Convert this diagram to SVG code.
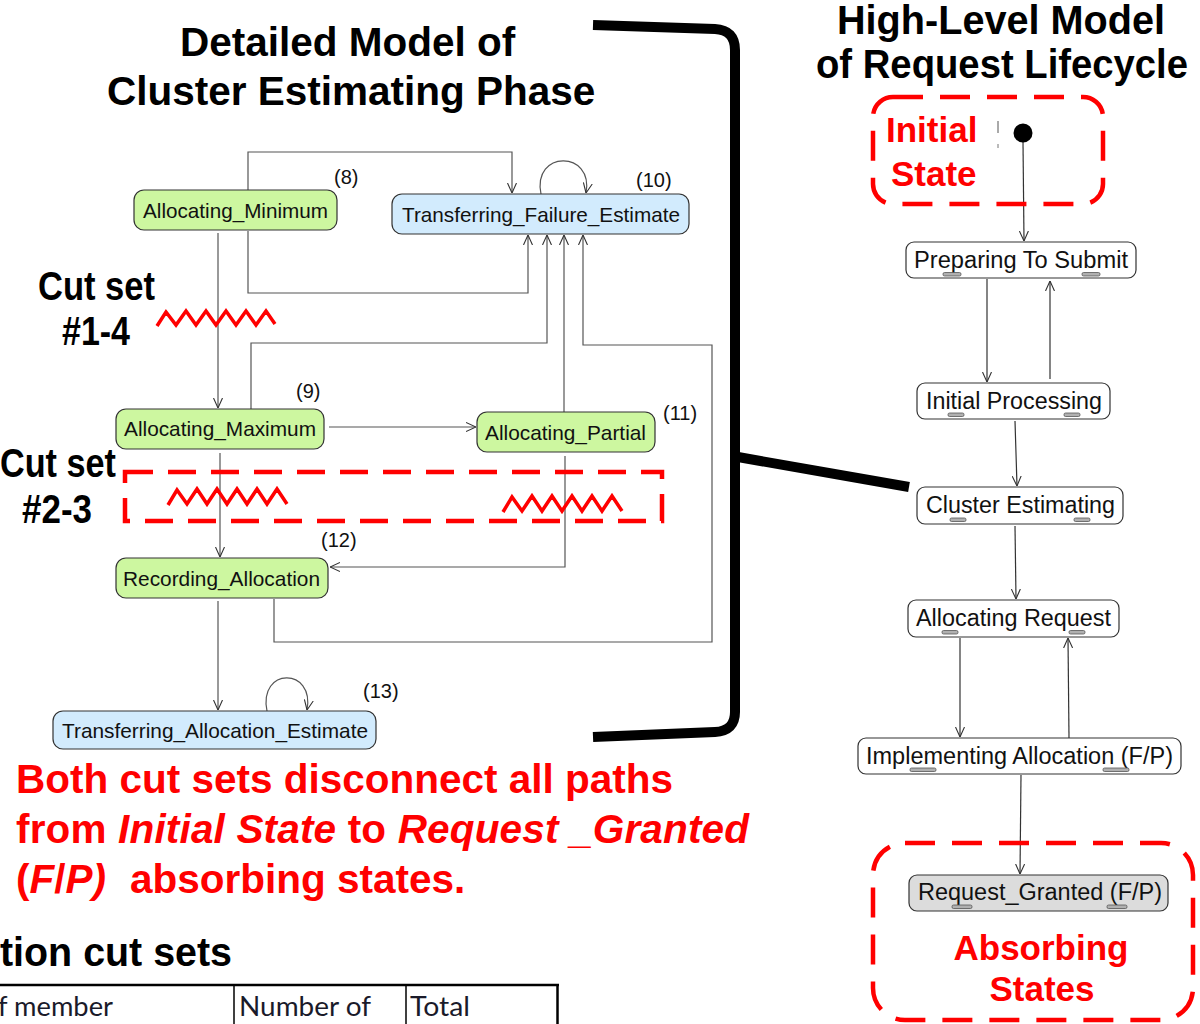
<svg xmlns="http://www.w3.org/2000/svg" width="1200" height="1024" viewBox="0 0 1200 1024">
<defs>
<marker id="arr" viewBox="0 0 10 10" refX="10" refY="5" markerWidth="10" markerHeight="10" markerUnits="userSpaceOnUse" orient="auto">
<path d="M0,0.5 L10,5 L0,9.5" fill="none" stroke="#333" stroke-width="1.1"/>
</marker>
<style>
.title{font-family:"Liberation Sans",Arial,sans-serif;font-weight:bold;font-size:40.5px;fill:#000}
.cut{font-family:"Liberation Sans",Arial,sans-serif;font-weight:bold;font-size:40px;fill:#000}
.red{font-family:"Liberation Sans",Arial,sans-serif;font-weight:bold;fill:#ff0000}
.it{font-style:italic}
.ntext{font-family:"Liberation Sans",Arial,sans-serif;font-size:21px;fill:#111}
.rtext{font-family:"Liberation Sans",Arial,sans-serif;font-size:23px;fill:#111}
.lbl{font-family:"Liberation Sans",Arial,sans-serif;font-size:20px;fill:#111}
.green{fill:#cdf7a0;stroke:#333;stroke-width:1.2}
.blue{fill:#d2ebfd;stroke:#333;stroke-width:1.2}
.white{fill:#fff;stroke:#333;stroke-width:1.2}
.gray{fill:#dcdcdc;stroke:#333;stroke-width:1.2}
.mark{fill:#b0b0b0;stroke:#555;stroke-width:0.8}
.conn{fill:none;stroke:#555;stroke-width:1.2}
.rconn{fill:none;stroke:#333;stroke-width:1.2}
.zig{fill:none;stroke:#ff0000;stroke-width:3.5;stroke-linejoin:miter}
.rdash{fill:none;stroke:#ff0000;stroke-width:4.5}
.tbl{font-family:Lato,"Open Sans",sans-serif;font-size:26px;fill:#1a1a2a}
</style>
</defs>

<!-- Titles -->
<text class="title" x="180" y="56">Detailed Model of</text>
<text class="title" x="107" y="105">Cluster Estimating Phase</text>
<text class="title" x="837" y="34" font-size="37" textLength="328" lengthAdjust="spacingAndGlyphs">High-Level Model</text>
<text class="title" x="816" y="78" font-size="37" textLength="372" lengthAdjust="spacingAndGlyphs">of Request Lifecycle</text>

<!-- Bracket and link -->
<path d="M593,25 L715,29 Q735,30 735,50 L735,712 Q735,731 715,732 L593,737" fill="none" stroke="#000" stroke-width="10"/>
<path d="M738,457 L909,487" fill="none" stroke="#000" stroke-width="10"/>

<!-- Connectors -->
<g id="connectors">
<path class="conn" d="M248,190 L248,152 L512,152 L512,193" marker-end="url(#arr)"/>
<path class="conn" d="M248,231 L248,293 L528,293 L528,235" marker-end="url(#arr)"/>
<path class="conn" d="M541,194 C532,150 594,150 586,193" marker-end="url(#arr)"/>
<path class="conn" d="M218,233 L218,408" marker-end="url(#arr)"/>
<path class="conn" d="M251,409 L251,343 L547,343 L547,235" marker-end="url(#arr)"/>
<path class="conn" d="M564,412 L564,235" marker-end="url(#arr)"/>
<path class="conn" d="M274,599 L274,642 L712,642 L712,345 L583,345 L583,235" marker-end="url(#arr)"/>
<path class="conn" d="M329,427 L476,427" marker-end="url(#arr)"/>
<path class="conn" d="M220,453 L220,557" marker-end="url(#arr)"/>
<path class="conn" d="M565,456 L565,567 L330,567" marker-end="url(#arr)"/>
<path class="conn" d="M218,601 L218,710" marker-end="url(#arr)"/>
<path class="conn" d="M267,711 C258,667 315,667 307,710" marker-end="url(#arr)"/>

<line x1="998" y1="121" x2="998" y2="133" stroke="#555" stroke-width="1"/>
<line x1="998" y1="144" x2="998" y2="148" stroke="#777" stroke-width="1"/>
<path class="rconn" d="M1023,142 L1024,241" marker-end="url(#arr)"/>
<path class="rconn" d="M987,279 L987,382" marker-end="url(#arr)"/>
<path class="rconn" d="M1050,379 L1050,281" marker-end="url(#arr)"/>
<path class="rconn" d="M1015,421 L1017,486" marker-end="url(#arr)"/>
<path class="rconn" d="M1015,526 L1016,599" marker-end="url(#arr)"/>
<path class="rconn" d="M960,638 L960,737" marker-end="url(#arr)"/>
<path class="rconn" d="M1069,738 L1068,638" marker-end="url(#arr)"/>
<path class="rconn" d="M1021,775 L1020,874" marker-end="url(#arr)"/>
</g>

<!-- Left nodes -->
<g id="allocating_minimum">
<rect class="green" x="134" y="190" width="203" height="40" rx="10"/>
<text class="ntext" x="143" y="218" textLength="185" lengthAdjust="spacingAndGlyphs">Allocating_Minimum</text>
</g>
<g id="transferring_failure_estimate">
<rect class="blue" x="392" y="194" width="297" height="40" rx="10"/>
<text class="ntext" x="402" y="222" textLength="278" lengthAdjust="spacingAndGlyphs">Transferring_Failure_Estimate</text>
</g>
<g id="allocating_maximum">
<rect class="green" x="116" y="409" width="208" height="40" rx="10"/>
<text class="ntext" x="124" y="436" textLength="192" lengthAdjust="spacingAndGlyphs">Allocating_Maximum</text>
</g>
<g id="allocating_partial">
<rect class="green" x="477" y="412" width="178" height="40" rx="10"/>
<text class="ntext" x="485" y="440" textLength="161" lengthAdjust="spacingAndGlyphs">Allocating_Partial</text>
</g>
<g id="recording_allocation">
<rect class="green" x="116" y="558" width="212" height="40" rx="10"/>
<text class="ntext" x="123" y="586" textLength="197" lengthAdjust="spacingAndGlyphs">Recording_Allocation</text>
</g>
<g id="transferring_allocation_estimate">
<rect class="blue" x="53" y="711" width="323" height="38" rx="10"/>
<text class="ntext" x="62" y="738" textLength="306" lengthAdjust="spacingAndGlyphs">Transferring_Allocation_Estimate</text>
</g>

<!-- Number labels -->
<text class="lbl" x="334" y="184">(8)</text>
<text class="lbl" x="296" y="398">(9)</text>
<text class="lbl" x="636" y="187">(10)</text>
<text class="lbl" x="663" y="420">(11)</text>
<text class="lbl" x="321" y="547">(12)</text>
<text class="lbl" x="363" y="698">(13)</text>

<!-- Cut sets -->
<text class="cut" x="38" y="300" textLength="117" lengthAdjust="spacingAndGlyphs">Cut set</text>
<text class="cut" x="62" y="345" textLength="68" lengthAdjust="spacingAndGlyphs">#1-4</text>
<text class="cut" x="0" y="477" textLength="116" lengthAdjust="spacingAndGlyphs">Cut set</text>
<text class="cut" x="22" y="523" textLength="70" lengthAdjust="spacingAndGlyphs">#2-3</text>

<path class="zig" d="M157,326 L166,312 L176,325 L186,311 L196,325 L206,311 L216,325 L226,311 L236,325 L246,311 L256,325 L266,311 L275,324"/>
<path class="zig" d="M168,505 L177,490 L187,504 L197,489 L207,504 L217,489 L227,504 L237,489 L247,504 L257,489 L267,504 L277,489 L287,504"/>
<path class="zig" d="M503,512 L512,497 L522,511 L532,496 L542,511 L552,496 L562,511 L572,496 L582,511 L592,496 L602,511 L612,496 L622,511"/>
<rect class="rdash" x="125" y="472" width="537" height="49" stroke-dasharray="28 15"/>

<!-- Right nodes -->
<g id="initial_state">
<rect class="rdash" x="873" y="97" width="230" height="107" rx="20" stroke-dasharray="30 17"/>
<text class="red" x="886" y="142" font-size="35">Initial</text>
<text class="red" x="891" y="186" font-size="35">State</text>
<circle cx="1023" cy="133" r="9.5" fill="#000"/>
</g>
<g id="preparing_to_submit">
<rect class="white" x="906" y="242" width="230" height="36" rx="8"/>
<text class="rtext" x="914" y="268" textLength="214" lengthAdjust="spacingAndGlyphs">Preparing To Submit</text>
<rect class="mark" x="943" y="272.5" width="18" height="3.5" rx="1.5"/>
<rect class="mark" x="1082" y="272.5" width="18" height="3.5" rx="1.5"/>
</g>
<g id="initial_processing">
<rect class="white" x="917" y="383" width="193" height="36" rx="8"/>
<text class="rtext" x="926" y="409" textLength="176" lengthAdjust="spacingAndGlyphs">Initial Processing</text>
<rect class="mark" x="948" y="413" width="16" height="3.5" rx="1.5"/>
<rect class="mark" x="1064" y="413" width="16" height="3.5" rx="1.5"/>
</g>
<g id="cluster_estimating">
<rect class="white" x="917" y="487" width="206" height="37" rx="8"/>
<text class="rtext" x="926" y="513" textLength="189" lengthAdjust="spacingAndGlyphs">Cluster Estimating</text>
<rect class="mark" x="950" y="518" width="16" height="3.5" rx="1.5"/>
<rect class="mark" x="1074" y="518" width="16" height="3.5" rx="1.5"/>
</g>
<g id="allocating_request">
<rect class="white" x="908" y="600" width="211" height="37" rx="8"/>
<text class="rtext" x="916" y="626" textLength="195" lengthAdjust="spacingAndGlyphs">Allocating Request</text>
<rect class="mark" x="942" y="630.5" width="16" height="3.5" rx="1.5"/>
<rect class="mark" x="1069" y="630.5" width="16" height="3.5" rx="1.5"/>
</g>
<g id="implementing_allocation">
<rect class="white" x="858" y="738" width="323" height="36" rx="8"/>
<text class="rtext" x="866" y="764" textLength="307" lengthAdjust="spacingAndGlyphs">Implementing Allocation (F/P)</text>
<rect class="mark" x="910" y="768" width="26" height="3.5" rx="1.5"/>
<rect class="mark" x="1103" y="768" width="26" height="3.5" rx="1.5"/>
</g>
<g id="request_granted">
<rect class="gray" x="909" y="875" width="259" height="36" rx="8"/>
<text class="rtext" x="918" y="900" textLength="244" lengthAdjust="spacingAndGlyphs">Request_Granted (F/P)</text>
<rect class="mark" x="952" y="905" width="20" height="3.5" rx="1.5"/>
<rect class="mark" x="1107" y="905" width="20" height="3.5" rx="1.5"/>
</g>
<g id="absorbing_states">
<rect class="rdash" x="873" y="843" width="320" height="177" rx="32" stroke-dasharray="30 17"/>
<text class="red" x="1041" y="960" font-size="35" text-anchor="middle">Absorbing</text>
<text class="red" x="1042" y="1001" font-size="35" text-anchor="middle">States</text>
</g>

<!-- Red statement -->
<text class="red" font-size="40.5" x="16" y="793">Both cut sets disconnect all paths</text>
<text class="red" font-size="40.5" x="16" y="843" textLength="733">from <tspan class="it">Initial State</tspan> to <tspan class="it">Request _Granted</tspan></text>
<text class="red" font-size="40.5" x="16" y="893">(<tspan class="it">F</tspan>/<tspan class="it">P)</tspan><tspan x="130">absorbing states.</tspan></text>

<!-- Bottom partial table -->
<text class="title" x="0" y="966" font-size="39" textLength="232" lengthAdjust="spacingAndGlyphs">tion cut sets</text>
<line x1="0" y1="985" x2="559" y2="985" stroke="#000" stroke-width="2.5"/>
<line x1="557.5" y1="984" x2="557.5" y2="1024" stroke="#000" stroke-width="2.5"/>
<line x1="234" y1="986" x2="234" y2="1024" stroke="#000" stroke-width="1.5"/>
<line x1="406" y1="986" x2="406" y2="1024" stroke="#000" stroke-width="1.5"/>
<text class="tbl" x="-2" y="1016" textLength="115" lengthAdjust="spacingAndGlyphs">f member</text>
<text class="tbl" x="239" y="1016" textLength="132" lengthAdjust="spacingAndGlyphs">Number of</text>
<text class="tbl" x="410" y="1016" textLength="60" lengthAdjust="spacingAndGlyphs">Total</text>
</svg>
